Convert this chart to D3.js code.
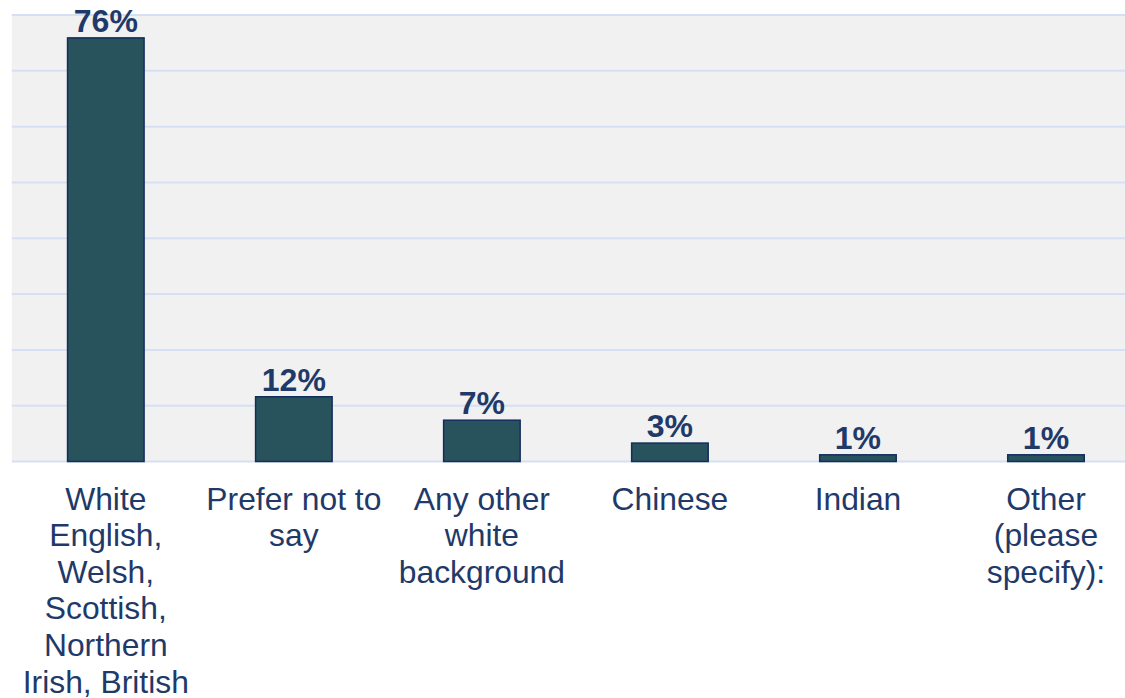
<!DOCTYPE html>
<html lang="en">
<head>
<meta charset="UTF-8">
<title>Ethnicity</title>
<script src="https://cdn.jsdelivr.net/npm/d3@7"></script>
<style>
  html, body { margin: 0; padding: 0; background: #ffffff; }
  svg { display: block; }
</style>
</head>
<body>
<div id="container"></div>
<script>
  const categories = [
    ["White", "English,", "Welsh,", "Scottish,", "Northern", "Irish, British"],
    ["Prefer not to", "say"],
    ["Any other", "white", "background"],
    ["Chinese"],
    ["Indian"],
    ["Other", "(please", "specify):"]
  ];
  const values = [75.9, 11.6, 7.4, 3.3, 1.2, 1.2];
  const valueLabels = ["76%", "12%", "7%", "3%", "1%", "1%"];
  const gridTicks = [0, 10, 20, 30, 40, 50, 60, 70, 80];

  const width = 1125;
  const height = 698;
  const plotLeft = 11.8;
  const plotRight = 1140;
  const plotTop = 15;
  const plotBottom = 461.5;

  const textColor = "#1f3a68";
  const font = "'Liberation Sans', Arial, sans-serif";

  const x = d3.scaleBand()
      .domain(d3.range(categories.length))
      .range([plotLeft, plotRight])
      .paddingInner(0.593)
      .paddingOuter(0.593 / 2);

  const y = d3.scaleLinear()
      .domain([0, 80])
      .range([plotBottom, plotTop]);

  const svg = d3.create("svg")
      .attr("width", width)
      .attr("height", height);

  // plot background
  svg.append("rect")
      .attr("x", plotLeft)
      .attr("y", plotTop)
      .attr("width", plotRight - plotLeft)
      .attr("height", plotBottom - plotTop)
      .attr("fill", "#f2f1f1");

  // gridlines
  svg.append("g")
    .selectAll("line")
    .data(gridTicks)
    .join("line")
      .attr("x1", plotLeft)
      .attr("x2", plotRight)
      .attr("y1", d => y(d))
      .attr("y2", d => y(d))
      .attr("stroke", "#d5e0f2")
      .attr("stroke-width", 2);

  // bars
  svg.append("g")
    .selectAll("rect")
    .data(values)
    .join("rect")
      .attr("x", (d, i) => x(i))
      .attr("y", d => y(d))
      .attr("width", x.bandwidth())
      .attr("height", d => plotBottom - y(d))
      .attr("fill", "#29535c")
      .attr("stroke", "#132d5e")
      .attr("stroke-width", 1.5);

  // value labels
  svg.append("g")
    .selectAll("text")
    .data(values)
    .join("text")
      .attr("x", (d, i) => x(i) + x.bandwidth() / 2)
      .attr("y", d => y(d) - 6)
      .attr("text-anchor", "middle")
      .attr("font-family", font)
      .attr("font-weight", "bold")
      .attr("font-size", 32)
      .attr("fill", textColor)
      .text((d, i) => valueLabels[i]);

  // category labels
  const cat = svg.append("g")
    .selectAll("text")
    .data(categories)
    .join("text")
      .attr("x", (d, i) => x(i) + x.bandwidth() / 2)
      .attr("y", plotBottom + 48)
      .attr("text-anchor", "middle")
      .attr("font-family", font)
      .attr("font-size", 31.8)
      .attr("fill", textColor);

  cat.selectAll("tspan")
    .data((d, i) => d.map(line => ({ line, i })))
    .join("tspan")
      .attr("x", d => x(d.i) + x.bandwidth() / 2)
      .attr("dy", (d, j) => j === 0 ? 0 : 36.6)
      .text(d => d.line);

  document.getElementById("container").append(svg.node());
</script>
</body>
</html>
